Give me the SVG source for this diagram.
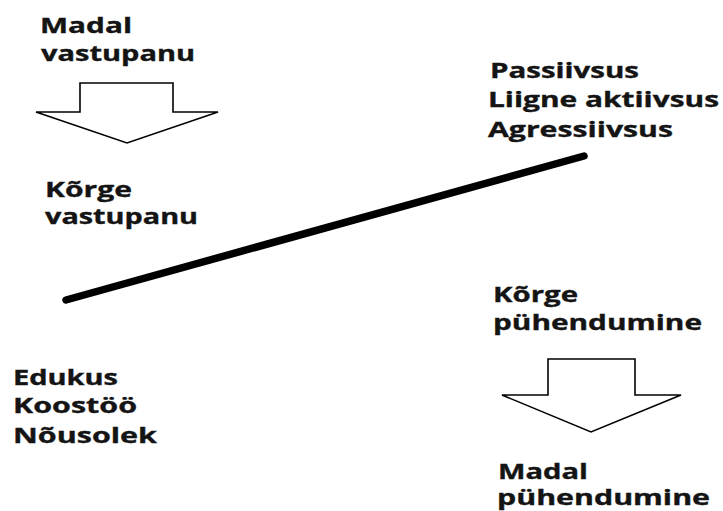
<svg xmlns="http://www.w3.org/2000/svg" width="723" height="511" viewBox="0 0 723 511">
<style>
text{font-family:"Open Sans","Noto Sans","Liberation Sans",sans-serif;font-weight:bold;font-size:20.5px;fill:#141414;stroke:#141414;stroke-width:0.35;font-variant-ligatures:none}
.arr{fill:#fff;stroke:#000;stroke-width:1.6;stroke-linejoin:miter}
</style>
<rect width="723" height="511" fill="#fff"/>
<g id="connectors">
<line x1="66" y1="300" x2="584" y2="156" stroke="#000" stroke-width="7.5" stroke-linecap="round"/>
</g>
<g id="arrow-left">
<polygon class="arr" points="80,112 80,83 173,83 173,112 218,112 127,143 36,112"/>
</g>
<g id="arrow-right">
<polygon class="arr" points="548,395 548,359 635,359 635,395 681,395 591,432 502,395"/>
</g>
<g id="low-resistance">
<text x="40" y="33" textLength="92" lengthAdjust="spacingAndGlyphs">Madal</text>
<text x="41" y="61" textLength="154" lengthAdjust="spacingAndGlyphs">vastupanu</text>
</g>
<g id="high-resistance">
<text x="45" y="197" textLength="87" lengthAdjust="spacingAndGlyphs">Kõrge</text>
<text x="45" y="224" textLength="153" lengthAdjust="spacingAndGlyphs">vastupanu</text>
</g>
<g id="passive">
<text x="490" y="78" textLength="149" lengthAdjust="spacingAndGlyphs">Passiivsus</text>
<text x="488" y="107" textLength="231" lengthAdjust="spacingAndGlyphs">Liigne aktiivsus</text>
<text x="488" y="137" textLength="185" lengthAdjust="spacingAndGlyphs">Agressiivsus</text>
</g>
<g id="success">
<text x="13" y="385" textLength="105" lengthAdjust="spacingAndGlyphs">Edukus</text>
<text x="13" y="413" textLength="124" lengthAdjust="spacingAndGlyphs">Koostöö</text>
<text x="13" y="443" textLength="144" lengthAdjust="spacingAndGlyphs">Nõusolek</text>
</g>
<g id="high-commitment">
<text x="493" y="302" textLength="85" lengthAdjust="spacingAndGlyphs">Kõrge</text>
<text x="493" y="330" textLength="209" lengthAdjust="spacingAndGlyphs">pühendumine</text>
</g>
<g id="low-commitment">
<text x="498" y="479" textLength="90" lengthAdjust="spacingAndGlyphs">Madal</text>
<text x="497" y="505" textLength="213" lengthAdjust="spacingAndGlyphs">pühendumine</text>
</g>
</svg>
